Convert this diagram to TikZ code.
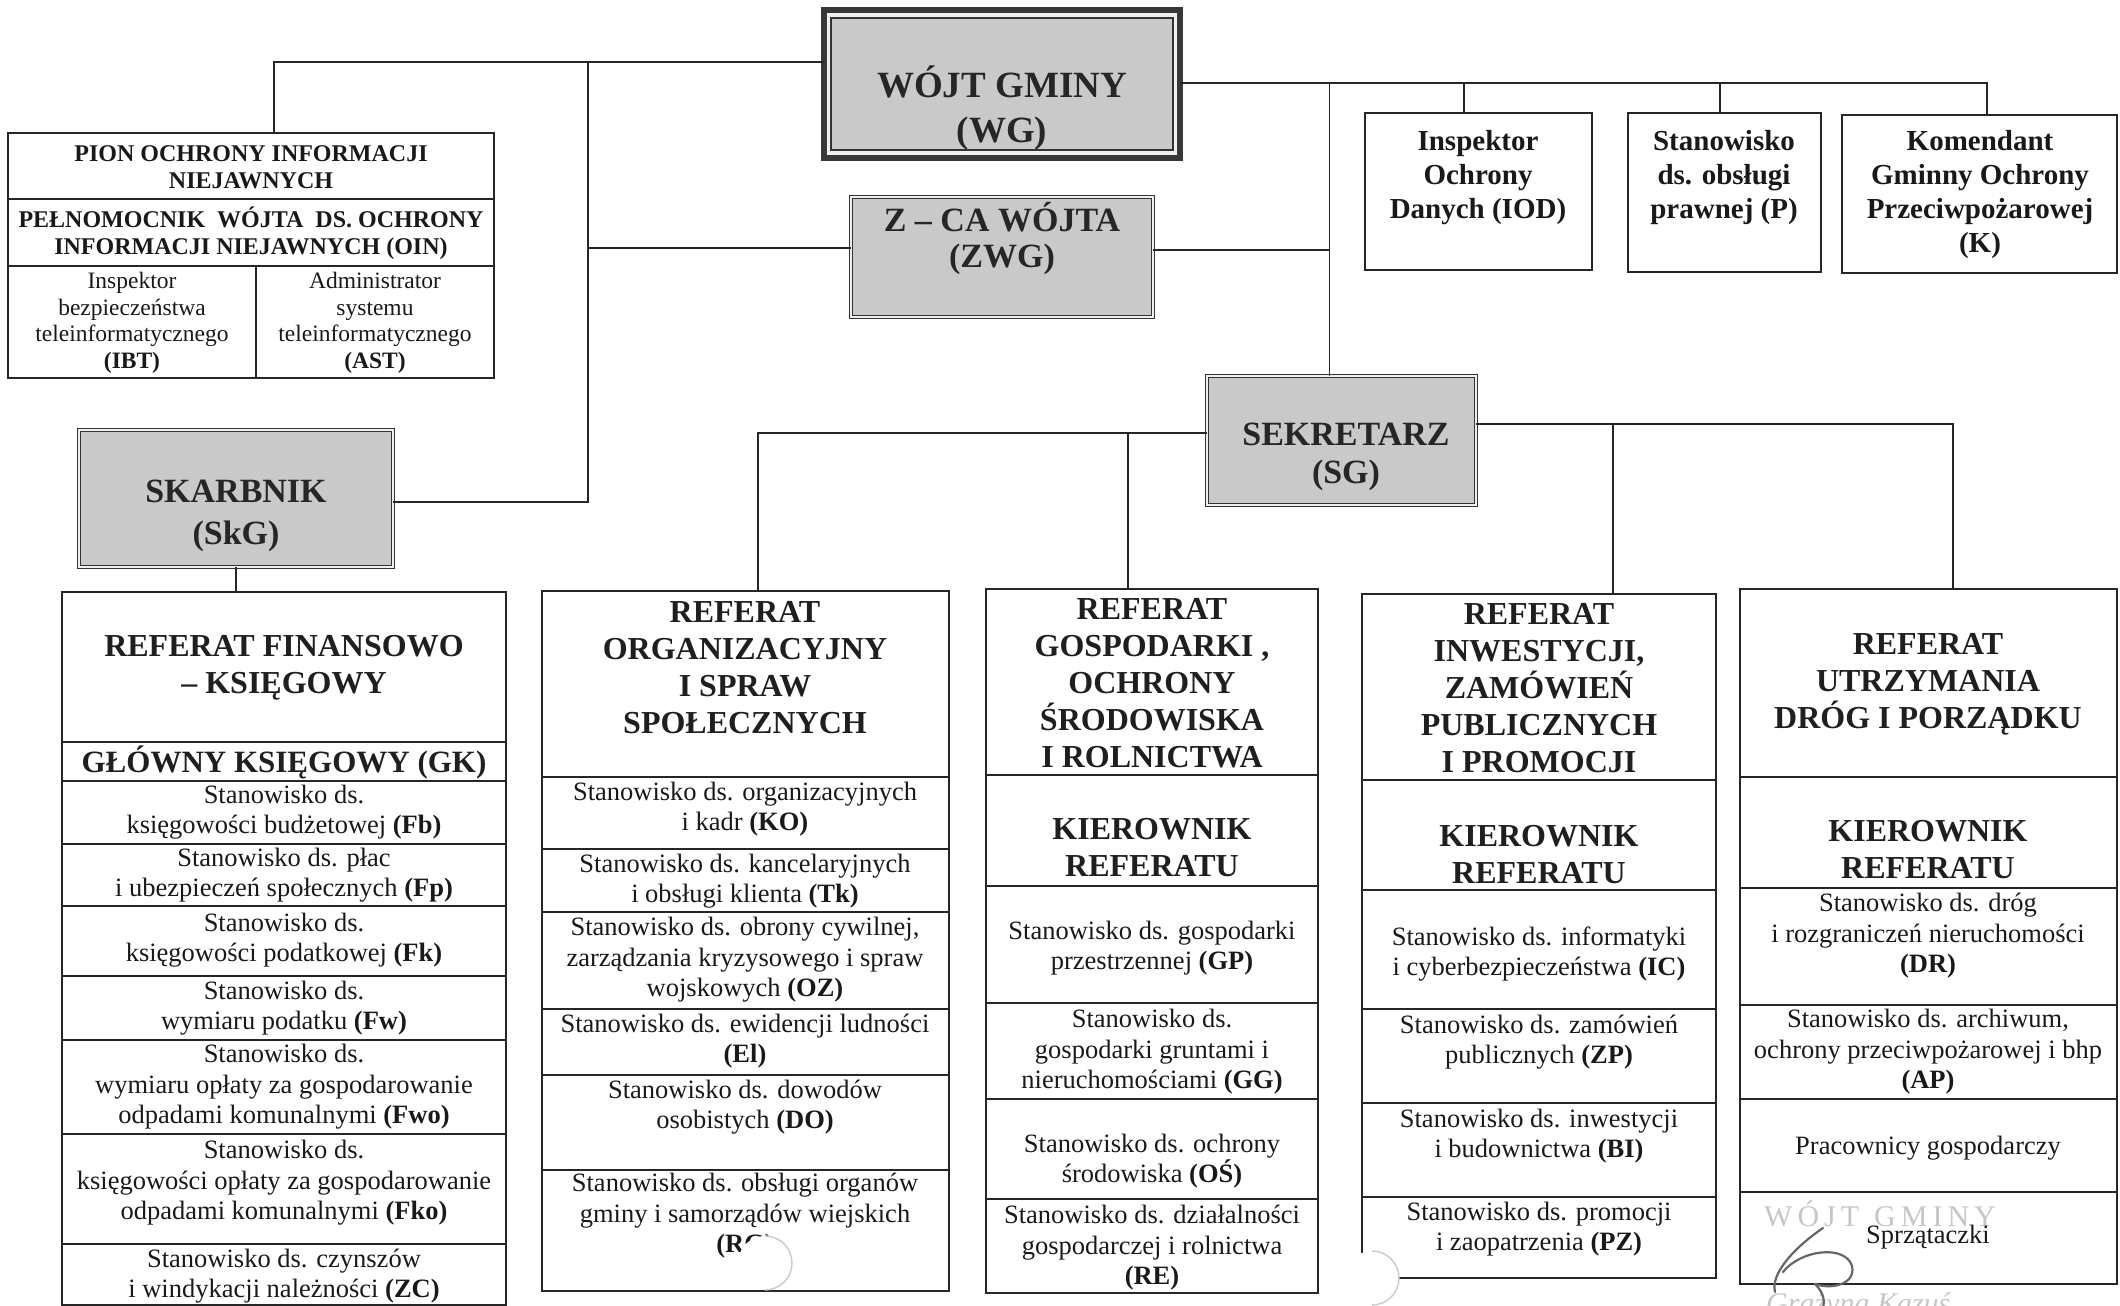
\documentclass[tikz,border=0pt]{standalone}
\usepackage{fontspec}
\setmainfont{Liberation Serif}
\begin{document}
\begin{tikzpicture}[x=1pt,y=-1pt,
  conn/.style={draw=black!85, line width=1.8pt},
  cell/.style={draw=black!85, line width=1.6pt, inner sep=0pt, outer sep=0pt},
  sepl/.style={draw=black!85, line width=1.6pt},
  boss/.style={fill=gray!42, draw=black!80, line width=1.3pt, double=gray!12, double distance=1.6pt, inner sep=0pt, outer sep=0pt},
  wgbox/.style={fill=gray!12, draw=black!78, line width=6pt, inner sep=0pt, outer sep=0pt},
  bosstxt/.style={font=\bfseries\fontsize{34}{37}\selectfont, align=center, text=black!85, inner sep=0pt},
  hd/.style={font=\bfseries\fontsize{32}{37}\selectfont, align=center, text=black!88, inner sep=0pt},
  st/.style={font=\fontsize{26.5}{30.5}\selectfont, align=center, text=black!90, inner sep=0pt},
  toptxt/.style={font=\bfseries\fontsize{29}{34}\selectfont, align=center, text=black!90, inner sep=0pt},
  piont/.style={font=\bfseries\fontsize{24}{27}\selectfont, align=center, text=black!90, inner sep=0pt},
  pions/.style={font=\fontsize{23.5}{26.5}\selectfont, align=center, text=black!90, inner sep=0pt},
  stamp/.style={font=\fontsize{30}{32}\selectfont, text=gray!45, inner sep=0pt},
  sig/.style={draw=black!60, line width=2.2pt, line cap=round},
  hole/.style={fill=white, draw=none},
  holeedge/.style={draw=gray!40, line width=1.5pt}
]
\useasboundingbox (0,0) rectangle (2120,1306);

% ---------- top level boxes ----------
\node[wgbox, minimum width=356pt, minimum height=148pt] (wg) at (1002,84) {};
\draw[line width=1.5pt, draw=black!80, fill=gray!42] ([shift={(7,8)}]wg.north west) rectangle ([shift={(-7,-8)}]wg.south east);
\node[bosstxt, font=\bfseries\fontsize{37}{45}\selectfont] (wgt) at (1002,108) {WÓJT GMINY\\(WG)};

\node[boss, anchor=north west, minimum width=302pt, minimum height=120pt] (zwg) at (851,197) {};
\node[bosstxt, font=\bfseries\fontsize{34}{36}\selectfont] (zwgt) at (1002,239) {Z – CA WÓJTA\\(ZWG)};

\node[boss, anchor=north west, minimum width=314pt, minimum height=137pt] (skarb) at (79,430) {};
\node[bosstxt, font=\bfseries\fontsize{34}{42}\selectfont] (skarbt) at (236,516) {SKARBNIK\\(SkG)};

\node[boss, anchor=north west, minimum width=269pt, minimum height=129pt] (sekr) at (1207,376) {};
\node[bosstxt, font=\bfseries\fontsize{34}{38}\selectfont] (sekrt) at (1346,457) {SEKRETARZ\\(SG)};

% ---------- PION box ----------
\node[cell, anchor=north west, minimum width=486pt, minimum height=245pt] (pion) at (8,133) {};
\draw[sepl] (pion.west |- 0,199) -- (pion.east |- 0,199);
\draw[sepl] (pion.west |- 0,266) -- (pion.east |- 0,266);
\draw[sepl] (256,266) -- (pion.south -| 256,0);
\node[piont] (pion1) at (251,167) {PION OCHRONY INFORMACJI\\NIEJAWNYCH};
\node[piont] (pion2) at (251,233) {PEŁNOMOCNIK\ \ WÓJTA\ \ DS. OCHRONY\\INFORMACJI NIEJAWNYCH (OIN)};
\node[pions] (ibt) at (132,323) {Inspektor\\bezpieczeństwa\\teleinformatycznego\\\textbf{(IBT)}};
\node[pions] (ast) at (375,323) {Administrator\\systemu\\teleinformatycznego\\\textbf{(AST)}};

% ---------- top right boxes ----------
\node[cell, anchor=north west, minimum width=227pt, minimum height=157pt] (iod) at (1365,113) {};
\node[toptxt] (iodt) at (1478,178) {Inspektor\\Ochrony\\Danych (IOD)};
\node[cell, anchor=north west, minimum width=193pt, minimum height=159pt] (praw) at (1628,113) {};
\node[toptxt] (prawt) at (1724,178) {Stanowisko\\ds. obsługi\\prawnej (P)};
\node[cell, anchor=north west, minimum width=275pt, minimum height=158pt] (kom) at (1842,115) {};
\node[toptxt] (komt) at (1980,195) {Komendant\\Gminny Ochrony\\Przeciwpożarowej\\(K)};

% ---------- REFERAT FINANSOWO ----------
\node[cell, anchor=north west, minimum width=444pt, minimum height=713pt] (fin) at (62,592) {};
\foreach \yy in {742,781,844,906,976,1040,1134,1244}
  \draw[sepl] (fin.west |- 0,\yy) -- (fin.east |- 0,\yy);
\node[hd] (fin0) at (284,668) {REFERAT FINANSOWO\\– KSIĘGOWY};
\node[hd, font=\bfseries\fontsize{31}{36}\selectfont] (fingk) at (284,762) {GŁÓWNY KSIĘGOWY (GK)};
\node[st] (fin1) at (284,812) {Stanowisko ds.\\księgowości budżetowej \textbf{(Fb)}};
\node[st] (fin2) at (284,875) {Stanowisko ds. płac\\i ubezpieczeń społecznych \textbf{(Fp)}};
\node[st] (fin3) at (284,940) {Stanowisko ds.\\księgowości podatkowej \textbf{(Fk)}};
\node[st] (fin4) at (284,1008) {Stanowisko ds.\\wymiaru podatku \textbf{(Fw)}};
\node[st] (fin5) at (284,1087) {Stanowisko ds.\\wymiaru opłaty za gospodarowanie\\odpadami komunalnymi \textbf{(Fwo)}};
\node[st] (fin6) at (284,1183) {Stanowisko ds.\\księgowości opłaty za gospodarowanie\\odpadami komunalnymi \textbf{(Fko)}};
\node[st] (fin7) at (284,1276) {Stanowisko ds. czynszów\\i windykacji należności \textbf{(ZC)}};

% ---------- REFERAT ORGANIZACYJNY ----------
\node[cell, anchor=north west, minimum width=407pt, minimum height=700pt] (org) at (542,591) {};
\foreach \yy in {777,849,912,1009,1075,1170}
  \draw[sepl] (org.west |- 0,\yy) -- (org.east |- 0,\yy);
\node[hd] (org0) at (745,668) {REFERAT\\ORGANIZACYJNY\\I SPRAW\\SPOŁECZNYCH};
\node[st] (org1) at (745,809) {Stanowisko ds. organizacyjnych\\i kadr \textbf{(KO)}};
\node[st] (org2) at (745,881) {Stanowisko ds. kancelaryjnych\\i obsługi klienta \textbf{(Tk)}};
\node[st] (org3) at (745,960) {Stanowisko ds. obrony cywilnej,\\zarządzania kryzysowego i spraw\\wojskowych \textbf{(OZ)}};
\node[st] (org4) at (745,1041) {Stanowisko ds. ewidencji ludności\\\textbf{(El)}};
\node[st] (org5) at (745,1107) {Stanowisko ds. dowodów\\osobistych \textbf{(DO)}};
\node[st] (org6) at (745,1216) {Stanowisko ds. obsługi organów\\gminy i samorządów wiejskich\\\textbf{(RG)}};

% ---------- REFERAT GOSPODARKI ----------
\node[cell, anchor=north west, minimum width=332pt, minimum height=704pt] (gosp) at (986,589) {};
\foreach \yy in {775,886,1003,1099,1199}
  \draw[sepl] (gosp.west |- 0,\yy) -- (gosp.east |- 0,\yy);
\node[hd] (gos0) at (1152,683) {REFERAT\\GOSPODARKI ,\\OCHRONY\\ŚRODOWISKA\\I ROLNICTWA};
\node[hd] (gos1) at (1152,848) {KIEROWNIK\\REFERATU};
\node[st] (gos2) at (1152,948) {Stanowisko ds. gospodarki\\przestrzennej \textbf{(GP)}};
\node[st] (gos3) at (1152,1052) {Stanowisko ds.\\gospodarki gruntami i\\nieruchomościami \textbf{(GG)}};
\node[st] (gos4) at (1152,1161) {Stanowisko ds. ochrony\\środowiska \textbf{(OŚ)}};
\node[st] (gos5) at (1152,1248) {Stanowisko ds. działalności\\gospodarczej i rolnictwa\\\textbf{(RE)}};

% ---------- REFERAT INWESTYCJI ----------
\node[cell, anchor=north west, minimum width=354pt, minimum height=684pt] (inw) at (1362,594) {};
\foreach \yy in {780,890,1009,1103,1197}
  \draw[sepl] (inw.west |- 0,\yy) -- (inw.east |- 0,\yy);
\node[hd] (inw0) at (1539,688) {REFERAT\\INWESTYCJI,\\ZAMÓWIEŃ\\PUBLICZNYCH\\I PROMOCJI};
\node[hd] (inw1) at (1539,855) {KIEROWNIK\\REFERATU};
\node[st] (inw2) at (1539,954) {Stanowisko ds. informatyki\\i cyberbezpieczeństwa \textbf{(IC)}};
\node[st] (inw3) at (1539,1042) {Stanowisko ds. zamówień\\publicznych \textbf{(ZP)}};
\node[st] (inw4) at (1539,1136) {Stanowisko ds. inwestycji\\i budownictwa \textbf{(BI)}};
\node[st] (inw5) at (1539,1229) {Stanowisko ds. promocji\\i zaopatrzenia \textbf{(PZ)}};

% ---------- REFERAT UTRZYMANIA ----------
\node[cell, anchor=north west, minimum width=377pt, minimum height=695pt] (utrz) at (1740,589) {};
\foreach \yy in {777,888,1005,1099,1192}
  \draw[sepl] (utrz.west |- 0,\yy) -- (utrz.east |- 0,\yy);
\node[hd] (utr0) at (1928,684) {REFERAT\\UTRZYMANIA\\DRÓG I PORZĄDKU};
\node[hd] (utr1) at (1928,850) {KIEROWNIK\\REFERATU};
\node[st] (utr2) at (1928,936) {Stanowisko ds. dróg\\i rozgraniczeń nieruchomości\\\textbf{(DR)}};
\node[st] (utr3) at (1928,1052) {Stanowisko ds. archiwum,\\ochrony przeciwpożarowej i bhp\\\textbf{(AP)}};
\node[st] (utr4) at (1928,1148) {Pracownicy gospodarczy};
\node[stamp, anchor=base west] (stamp1) at (1764,1226) {W\,Ó\,J\,T\ \ G\,M\,I\,N\,Y};
\node[st] (utr5) at (1928,1237) {Sprzątaczki};

% ---------- connectors ----------
\coordinate (jA) at (274,62);
\coordinate (jB) at (588,62);
\coordinate (jC) at (588,502);
\coordinate (jD) at (588,248);
\coordinate (jE) at (1987,83);
\coordinate (jF) at (1329.5,83);
\coordinate (jG) at (1464,83);
\coordinate (jH) at (1720,83);
\coordinate (jI) at (1329.5,250);
\coordinate (jJ) at (758,433);
\coordinate (jK) at (1128,433);
\coordinate (jL) at (1953,424);
\coordinate (jM) at (1613,424);

\draw[conn] (wg.west |- jA) -- (jA) -- (pion.north -| jA);
\draw[conn] (jB) -- (jC) -- (skarb.east |- jC);
\draw[conn] (jD) -- (zwg.west |- jD);
\draw[conn] (wg.east |- jE) -- (jE) -- (kom.north -| jE);
\draw[conn] (jF) -- (sekr.north -| jF);
\draw[conn] (jG) -- (iod.north -| jG);
\draw[conn] (jH) -- (praw.north -| jH);
\draw[conn] (zwg.east |- jI) -- (jI);
\draw[conn] (sekr.west |- jJ) -- (jJ) -- (org.north -| jJ);
\draw[conn] (jK) -- (gosp.north -| jK);
\draw[conn] (sekr.east |- jL) -- (jL) -- (utrz.north -| jL);
\draw[conn] (jM) -- (inw.north -| jM);
\draw[conn] (skarb.south) -- (fin.north -| skarb.south);

% ---------- scan artefacts: punch marks, signature, stamp ----------
\fill[hole] (765,1263) circle[radius=27];
\draw[holeedge] (765,1236) arc[start angle=-90, end angle=90, radius=27];
\fill[hole] (1372,1278) circle[radius=27];
\draw[holeedge] (1372,1251) arc[start angle=-90, end angle=90, radius=27];

\node[stamp, font=\itshape\fontsize{30}{32}\selectfont, anchor=base west] (stamp2) at (1766,1313) {Grażyna Kazuś};
\draw[sig] (1823,1228) .. controls (1798,1245) and (1770,1272) .. (1775,1292);
\draw[sig] (1783,1272) .. controls (1800,1250) and (1845,1244) .. (1852,1266) .. controls (1856,1284) and (1832,1290) .. (1815,1284);
\draw[sig] (1815,1284) .. controls (1823,1292) and (1826,1300) .. (1822,1312);
\end{tikzpicture}
\end{document}
